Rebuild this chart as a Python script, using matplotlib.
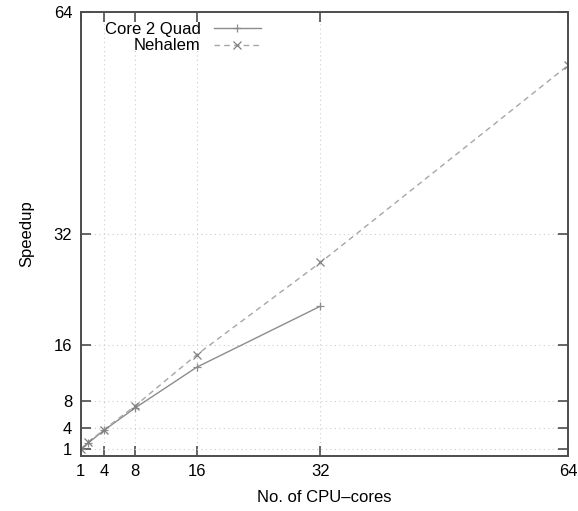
import matplotlib
matplotlib.use('Agg')
import matplotlib.pyplot as plt

plt.rcParams['font.family'] = ['Liberation Sans', 'DejaVu Sans']

# measured speedups
cores_c2q = [1, 2, 4, 8, 16, 32]
speedup_c2q = [1.0, 1.9, 3.7, 6.9, 12.8, 21.6]

cores_nhm = [1, 2, 4, 8, 16, 32, 64]
speedup_nhm = [1.0, 2.0, 3.8, 7.2, 14.6, 27.9, 56.3]

ticks = [1, 4, 8, 16, 32, 64]

fig = plt.figure(figsize=(5.78, 5.11), dpi=100)
ax = fig.add_axes([0.1396, 0.1076, 0.8431, 0.8689])

ax.plot(cores_c2q, speedup_c2q, color='#8c8c8c', linestyle='-', linewidth=1.0,
        marker='+', markersize=6, markeredgewidth=0.9, label='Core 2 Quad')
ax.plot(cores_nhm, speedup_nhm, color='#a6a6a6', linestyle=(0, (4, 3)), linewidth=1.0,
        marker='x', markersize=5.5, markeredgewidth=0.9, markeredgecolor='#808080',
        label='Nehalem')

ax.set_xlim(1, 64)
ax.set_ylim(0, 64)
ax.set_xticks(ticks)
ax.set_yticks(ticks)
ax.tick_params(direction='in', top=True, right=True, length=7, width=1.2,
               color='#4d4d4d', labelsize=12, pad=6)
for sp in ax.spines.values():
    sp.set_color('#4d4d4d')
    sp.set_linewidth(1.4)

ax.grid(True, color='#cccccc', linestyle=(0, (1, 3)), linewidth=0.8)
ax.set_axisbelow(True)

ax.set_xlabel('No. of CPU–cores', fontsize=12, labelpad=8)
ax.set_ylabel('Speedup', fontsize=12, labelpad=14)

ax.legend(loc='upper left', bbox_to_anchor=(0.036, 0.993), frameon=False,
          markerfirst=False, handlelength=2.8, fontsize=12,
          borderaxespad=0.0, labelspacing=0.1, handletextpad=0.8)

plt.savefig('out.png', dpi=100)
plt.close()
